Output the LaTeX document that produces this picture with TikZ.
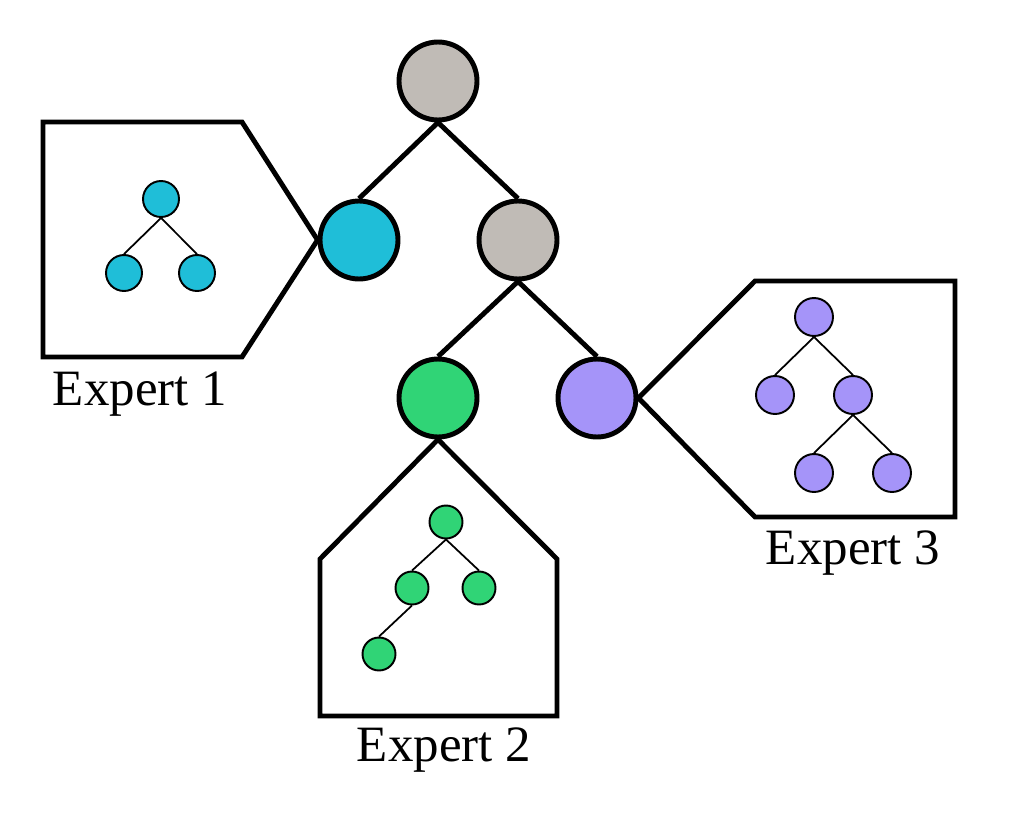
\documentclass[tikz,border=0pt]{standalone}
\usepackage{fontspec}
\setmainfont{Liberation Serif}
\usetikzlibrary{positioning}
\definecolor{rootgray}{RGB}{192,187,182}
\definecolor{expcyan}{RGB}{31,190,216}
\definecolor{expgreen}{RGB}{48,212,118}
\definecolor{exppurple}{RGB}{165,148,249}

\begin{document}
\begin{tikzpicture}[
  x=0.02cm,y=-0.02cm,
  big/.style={circle,draw,line width=2.8pt,minimum size=1.56cm,inner sep=0pt},
  leaf/.style={circle,draw,line width=1.1pt,inner sep=0pt,minimum size=#1},
  leaf/.default=0.72cm,
  wire/.style={line width=2.8pt},
  twig/.style={line width=1pt},
  housing/.style={line width=2.8pt,line join=miter},
  lab/.style={font=\fontsize{29}{35}\selectfont,anchor=base,inner sep=0pt}
]
\useasboundingbox (0,0) rectangle (1025,832);

% main tree
\node[big,fill=rootgray] (root) at (438,81) {};
\node[big,fill=expcyan] (e1) at (359,240) {};
\node[big,fill=rootgray] (mid) at (518,240) {};
\node[big,fill=expgreen] (e2) at (438,398) {};
\node[big,fill=exppurple] (e3) at (597,398) {};
\draw[wire] (root.south) -- (e1.north);
\draw[wire] (root.south) -- (mid.north);
\draw[wire] (mid.south) -- (e2.north);
\draw[wire] (mid.south) -- (e3.north);

% expert housings
\draw[housing] (e1.west) -- (242,122) -- (43,122) -- (43,357) -- (242,357) -- cycle;
\draw[housing] (e2.south) -- (320,559) -- (320,716) -- (557,716) -- (557,559) -- cycle;
\draw[housing] (e3.east) -- (755,281) -- (955,281) -- (955,517) -- (755,517) -- cycle;

% expert 1 tree
\node[leaf,fill=expcyan] (a0) at (161,199) {};
\node[leaf,fill=expcyan] (a1) at (124,273) {};
\node[leaf,fill=expcyan] (a2) at (197,273) {};
\draw[twig] (a0.south) -- (a1.north);
\draw[twig] (a0.south) -- (a2.north);

% expert 2 tree
\node[leaf=0.66cm,fill=expgreen] (b0) at (446,522) {};
\node[leaf=0.66cm,fill=expgreen] (b1) at (412,588) {};
\node[leaf=0.66cm,fill=expgreen] (b2) at (479,588) {};
\node[leaf=0.66cm,fill=expgreen] (b3) at (379,654) {};
\draw[twig] (b0.south) -- (b1.north);
\draw[twig] (b0.south) -- (b2.north);
\draw[twig] (b1.south) -- (b3.north);

% expert 3 tree
\node[leaf=0.76cm,fill=exppurple] (c0) at (814,317) {};
\node[leaf=0.76cm,fill=exppurple] (c1) at (775,395) {};
\node[leaf=0.76cm,fill=exppurple] (c2) at (853,395) {};
\node[leaf=0.76cm,fill=exppurple] (c3) at (814,473) {};
\node[leaf=0.76cm,fill=exppurple] (c4) at (892,473) {};
\draw[twig] (c0.south) -- (c1.north);
\draw[twig] (c0.south) -- (c2.north);
\draw[twig] (c2.south) -- (c3.north);
\draw[twig] (c2.south) -- (c4.north);

% labels
\node[lab] (l1) at (140,405) {Expert 1};
\node[lab] (l2) at (444,761) {Expert 2};
\node[lab] (l3) at (853,564) {Expert 3};
\end{tikzpicture}
\end{document}
